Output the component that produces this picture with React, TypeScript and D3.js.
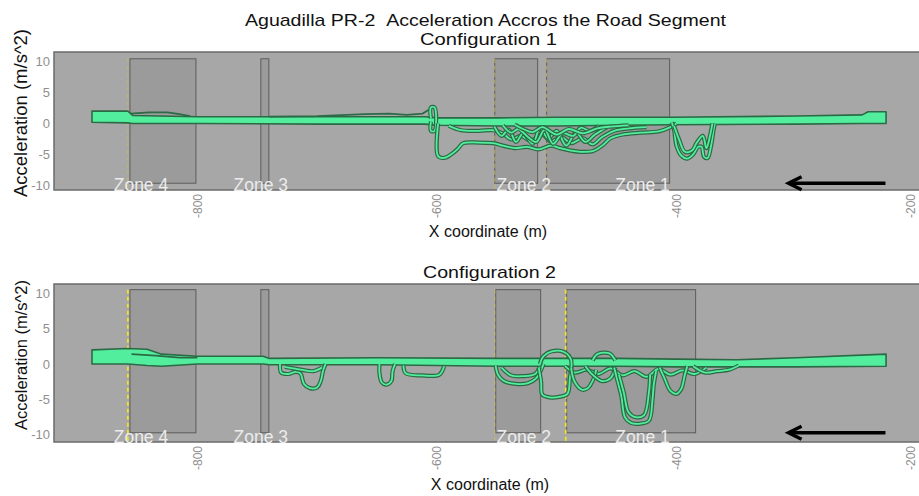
import React from "react";
import * as d3 from "d3";

type Pt = [number, number];

// ---------- DATA ----------
const xTicks = [-800, -600, -400, -200];
const yTicks = [-10, -5, 0, 5, 10];
const zoneNames = ["Zone 4", "Zone 3", "Zone 2", "Zone 1"];
const zoneLabelX = [-847.1, -747.0, -527.5, -428.3];
const zoneStart1 = [-856.3, -747.0, -551.7, -508.4];
const zoneEnd1 = [-801.2, -740.3, -515.9, -405.7];
const zoneStart2 = [-856.3, -747.0, -550.9, -491.7];
const zoneEnd2 = [-801.2, -740.3, -513.4, -384.0];
const zoneTop = 10.5;
const zoneBottom = -9.7;
const markers1 = [-858.0, -551.7, -508.4];
const markerBright1 = [false, false, false];
const markers2 = [-858.0, -551.7, -492.5];
const markerBright2 = [true, false, true];
const arrowFrom = -225.5;
const arrowTo = -306.4;
const arrowY = -9.7;

// Configuration 1
const band1X = [-888, -858, -854, -800, -700, -610, -600, -550, -500, -450, -405, -300, -245, -240, -225];
const band1Top = [2.0, 2.0, 1.3, 1.1, 1.1, 1.1, 0.9, 0.9, 1.0, 1.0, 1.0, 1.2, 1.4, 1.9, 1.9];
const band1Bottom = [0.2, 0.1, 0.0, 0.0, -0.1, -0.1, -0.3, -0.4, -0.4, -0.3, -0.2, -0.1, 0.0, 0.0, 0.0];

const c1Spike: Pt[] = [[-605, 0.8], [-605, 2.6], [-602, 2.6], [-602, -1.2], [-605, -1.2], [-605, 0.3]];
const c1Low: Pt[] = [[-599, 0], [-599, -5.3], [-594, -5.6], [-588, -5.0], [-583, -4.2], [-578, -3.2], [-565, -3.1], [-553, -3.2], [-545, -3.6], [-535, -4.0], [-525, -3.8], [-515, -4.2], [-505, -3.6], [-497, -4.0], [-488, -4.4], [-480, -4.6], [-470, -4.5], [-462, -3.6], [-455, -2.4], [-445, -1.8], [-430, -1.5], [-415, -1.3], [-405, -0.6], [-400, 0]];
const c1Mid: Pt[] = [[-590, -0.4], [-580, -1.1], [-565, -1.2], [-553, -1.1], [-545, -1.6], [-538, -2.6], [-530, -2.0], [-522, -2.8], [-512, -1.8], [-505, -2.9], [-496, -2.2], [-488, -3.2], [-478, -2.4], [-470, -3.4], [-462, -2.2], [-452, -1.2], [-440, -0.8], [-425, -0.6]];
const c1Mesh1: Pt[] = [[-552, -0.5], [-546, -2.0], [-540, -1.0], [-534, -3.0], [-528, -1.6], [-520, -3.3], [-514, -0.8], [-507, -2.4], [-500, -1.2], [-492, -3.6], [-484, -1.5], [-476, -3.0], [-468, -1.8], [-458, -0.6]];
const c1Mesh2: Pt[] = [[-545, -0.3], [-538, -1.5], [-532, -0.9], [-524, -2.2], [-517, -3.0], [-510, -1.0], [-503, -3.3], [-495, -1.6], [-486, -2.0], [-480, -0.7], [-472, -1.2], [-465, -0.4]];
const c1Mesh3: Pt[] = [[-535, -0.2], [-528, -0.9], [-520, -1.4], [-512, -0.6], [-500, -1.8], [-490, -0.9], [-478, -1.6], [-466, -0.8], [-455, -0.5], [-440, -0.3]];
const c1DipA: Pt[] = [[-404, 0.2], [-402, -1.0], [-400, -3.6], [-396, -5.2], [-391, -5.7], [-386, -5.0], [-382, -3.8], [-379, -3.8], [-377, -5.4], [-374, -5.6], [-371, -3.5], [-369, -1.0], [-368, 0]];
const c1DipB: Pt[] = [[-402, -0.4], [-398, -2.5], [-393, -4.6], [-387, -4.4], [-383, -3.1], [-378, -2.0], [-375, -4.0], [-372, -2.0], [-370, 0]];
const c1Dark1: Pt[] = [[-856, 1.6], [-840, 1.8], [-825, 1.8], [-815, 1.5], [-806, 1.2]];
const c1Dark2: Pt[] = [[-740, 1.1], [-700, 1.2], [-660, 1.5], [-640, 1.6], [-625, 1.4], [-612, 1.6], [-606, 2.3]];

// Configuration 2
const band2X = [-888, -858, -842, -830, -800, -745, -740, -650, -550, -500, -450, -400, -350, -300, -225];
const band2Top = [2.0, 2.2, 2.1, 1.4, 1.1, 1.1, 0.8, 0.9, 0.8, 0.8, 0.8, 0.7, 0.6, 0.9, 1.4];
const band2Bottom = [0.0, 0.0, -0.2, -0.3, 0.0, 0.0, -0.1, -0.1, -0.3, -0.3, -0.3, -0.4, -0.4, -0.4, -0.3];

const c2LoopA: Pt[] = [[-731, 0], [-730, -1.2], [-724, -1.4], [-718, -1.1], [-714, -1.3], [-711, -2.8], [-706, -3.4], [-700, -3.3], [-697, -2.4], [-695, -0.9], [-693, 0]];
const c2LoopA2: Pt[] = [[-727, -0.4], [-720, -0.6], [-710, -0.9], [-703, -1.0], [-696, -0.5]];
const c2LoopB: Pt[] = [[-648, 0], [-648, -1.2], [-646, -2.6], [-642, -2.9], [-638, -2.4], [-637, -1.0], [-635, 0]];
const c2LoopC: Pt[] = [[-628, -0.2], [-626, -1.3], [-613, -1.6], [-598, -1.5], [-594, -0.3]];
const c2Z2a: Pt[] = [[-551, -0.2], [-549, -1.5], [-544, -2.4], [-534, -2.8], [-524, -2.7], [-517, -2.0], [-513, -0.8], [-511, 0]];
const c2Z2b: Pt[] = [[-546, -0.5], [-538, -1.6], [-528, -1.7], [-518, -1.4], [-514, -0.4]];
const c2Mid: Pt[] = [[-515, -0.5], [-513, -2.5], [-512, -4.3], [-506, -4.7], [-497, -4.6], [-491, -4.2], [-489, -2], [-488, 0.6], [-494, 1.7], [-504, 1.8], [-511, 1.1], [-514, 0]];
const c2Z1a: Pt[] = [[-488, -0.5], [-485, -2.5], [-479, -3.6], [-474, -3.4], [-469, -2.0], [-467, -0.8]];
const c2Z1b: Pt[] = [[-476, -0.3], [-470, -1.5], [-462, -2.4], [-455, -2.0], [-451, -0.5]];
const c2Big: Pt[] = [[-452, -0.5], [-449, -2.5], [-446, -4.5], [-443, -7.5], [-438, -8.3], [-430, -8.4], [-423, -8.0], [-420, -5.0], [-419, -3.0], [-417, -1.0]];
const c2BigIn: Pt[] = [[-448, -1.5], [-444, -4.0], [-440, -6.8], [-434, -7.5], [-427, -7.2], [-423, -4.0], [-422, -1.5]];
const c2Dip: Pt[] = [[-414, -0.5], [-410, -2.0], [-405, -3.8], [-400, -4.2], [-396, -3.5], [-393, -1.5], [-391, -0.3]];
const c2Tail: Pt[] = [[-386, -0.3], [-376, -1.2], [-366, -1.0], [-356, -0.8], [-348, -0.2]];
const c2Mesh: Pt[] = [[-493, -0.3], [-485, -1.2], [-475, -0.8], [-465, -1.4], [-455, -0.6], [-445, -1.6], [-435, -1.0], [-425, -1.8], [-415, -0.7], [-405, -1.5], [-395, -0.9], [-385, -1.4], [-375, -0.5]];
const c2Up: Pt[] = [[-470, 0.5], [-466, 1.4], [-456, 1.5], [-451, 0.5]];
const c2Dark1: Pt[] = [[-855, 1.4], [-835, 1.2], [-815, 0.9], [-800, 0.9]];

// ---------- STYLE ----------
const FONT = "'Liberation Sans', Arial, Helvetica, sans-serif";
const BG = "#a7a7a7";
const GREEN = "#52ee9e";
const DARK = "#2c6a45";
const TICK = "#8f8f8f";

interface PanelProps {
  top: number;
  bottom: number;
  yDomain: [number, number];
  bandX: number[];
  bandTop: number[];
  bandBottom: number[];
  traces: Pt[][];
  darks: Pt[][];
  zStart: number[];
  zEnd: number[];
  markers: number[];
  bright: boolean[];
  title: string;
  titleX: number;
  titleY: number;
  titleLen: number;
  labelFont: number;
}

const x = d3.scaleLinear().domain([-919.7, -197.5]).range([54, 919]);

function Panel(p: PanelProps) {
  const y = d3.scaleLinear().domain(p.yDomain).range([p.bottom, p.top]);
  const line = d3
    .line<Pt>()
    .x((d) => x(d[0]))
    .y((d) => y(d[1]))
    .curve(d3.curveCatmullRom.alpha(0.5));
  const darkLine = d3.line<Pt>().x((d) => x(d[0])).y((d) => y(d[1]));
  const idx = d3.range(p.bandX.length);
  const area = d3
    .area<number>()
    .x((i) => x(p.bandX[i]))
    .y0((i) => y(p.bandBottom[i]))
    .y1((i) => y(p.bandTop[i]));
  const left = x.range()[0];
  const right = x.range()[1];
  const ay = y(arrowY);
  const ax1 = x(arrowTo);
  return (
    <g>
      <text
        x={p.titleX}
        y={p.titleY}
        textAnchor="middle"
        fontSize={17}
        fill="#111"
        fontFamily={FONT}
        textLength={p.titleLen}
        lengthAdjust="spacingAndGlyphs"
      >
        {p.title}
      </text>
      <rect x={left} y={p.top} width={right - left + 2} height={p.bottom - p.top} fill={BG} stroke="#6b6b6b" strokeWidth={1.5} />
      {p.zStart.map((s, i) => (
        <rect
          key={"z" + i}
          x={x(s)}
          y={y(zoneTop)}
          width={x(p.zEnd[i]) - x(s)}
          height={y(zoneBottom) - y(zoneTop)}
          fill="rgba(0,0,0,0.07)"
          stroke="#5c5c5c"
          strokeWidth={1}
        />
      ))}
      {p.markers.map((m, i) => (
        <line
          key={"m" + i}
          x1={x(m)}
          x2={x(m)}
          y1={y(zoneTop)}
          y2={p.bottom}
          stroke={p.bright[i] ? "#f2e22c" : "rgba(205,190,90,0.7)"}
          strokeWidth={p.bright[i] ? 1.8 : 1.2}
          strokeDasharray="4,3"
        />
      ))}
      <path d={area(idx) || ""} fill={GREEN} stroke={DARK} strokeWidth={1.6} strokeLinejoin="round" />
      {p.darks.map((t, i) => (
        <path key={"d" + i} d={darkLine(t) || ""} fill="none" stroke={DARK} strokeWidth={1.8} />
      ))}
      {p.traces.map((t, i) => (
        <g key={"t" + i}>
          <path d={line(t) || ""} fill="none" stroke={DARK} strokeWidth={4.2} strokeLinejoin="round" />
          <path d={line(t) || ""} fill="none" stroke={GREEN} strokeWidth={1.8} strokeLinejoin="round" />
        </g>
      ))}
      {zoneNames.map((z, i) => (
        <text key={"zl" + i} x={x(zoneLabelX[i])} y={p.bottom + 1} textAnchor="middle" fontSize={17.5} fill="#ececec" fontFamily={FONT}>
          {z}
        </text>
      ))}
      <line x1={x(arrowFrom)} x2={ax1 + 1} y1={ay} y2={ay} stroke="#000" strokeWidth={3.5} />
      <path d={`M${ax1 + 13},${ay - 6.5}L${ax1},${ay}L${ax1 + 13},${ay + 6.5}`} fill="none" stroke="#000" strokeWidth={3.5} strokeLinejoin="miter" />
      {yTicks.map((t) => (
        <text key={"yt" + t} x={50} y={y(t)} dy="0.35em" textAnchor="end" fontSize={13} fill={TICK} fontFamily={FONT}>
          {t}
        </text>
      ))}
      {xTicks.map((t) => (
        <text
          key={"xt" + t}
          transform={`translate(${Math.min(x(t), 911)},${p.bottom + 4}) rotate(-90)`}
          dy="0.35em"
          textAnchor="end"
          fontSize={12}
          fill={TICK}
          fontFamily={FONT}
        >
          {t}
        </text>
      ))}
      <text
        transform={`translate(21,${(p.top + p.bottom) / 2 - 8}) rotate(-90)`}
        dy="0.35em"
        textAnchor="middle"
        fontSize={p.labelFont}
        fill="#111"
        fontFamily={FONT}
      >
        Acceleration (m/s^2)
      </text>
    </g>
  );
}

export default function App() {
  return (
    <svg width={919} height={496} style={{ position: "absolute", left: 0, top: 0, background: "#fff" }}>
      <text
        x={485.5}
        y={26}
        textAnchor="middle"
        fontSize={17}
        fill="#111"
        fontFamily={FONT}
        textLength={481}
        lengthAdjust="spacingAndGlyphs"
      >
        Aguadilla PR-2{"\u00a0\u00a0"}Acceleration Accros the Road Segment
      </text>
      <Panel
        top={52}
        bottom={190}
        yDomain={[-10.8, 11.6]}
        bandX={band1X}
        bandTop={band1Top}
        bandBottom={band1Bottom}
        traces={[c1Spike, c1Low, c1Mid, c1Mesh1, c1Mesh2, c1Mesh3, c1DipA, c1DipB]}
        darks={[c1Dark1, c1Dark2]}
        zStart={zoneStart1}
        zEnd={zoneEnd1}
        markers={markers1}
        bright={markerBright1}
        title="Configuration 1"
        titleX={488.5}
        titleY={45}
        titleLen={137}
        labelFont={18.5}
      />
      <text x={488} y={237} textAnchor="middle" fontSize={16} fill="#111" fontFamily={FONT}>
        X coordinate (m)
      </text>
      <Panel
        top={284}
        bottom={442}
        yDomain={[-11, 11.3]}
        bandX={band2X}
        bandTop={band2Top}
        bandBottom={band2Bottom}
        traces={[c2LoopA, c2LoopA2, c2LoopB, c2LoopC, c2Z2a, c2Z2b, c2Mid, c2Mesh, c2Z1a, c2Z1b, c2Big, c2BigIn, c2Dip, c2Tail, c2Up]}
        darks={[c2Dark1]}
        zStart={zoneStart2}
        zEnd={zoneEnd2}
        markers={markers2}
        bright={markerBright2}
        title="Configuration 2"
        titleX={489.5}
        titleY={278}
        titleLen={133}
        labelFont={16.5}
      />
      <text x={490} y={490} textAnchor="middle" fontSize={16} fill="#111" fontFamily={FONT}>
        X coordinate (m)
      </text>
    </svg>
  );
}
